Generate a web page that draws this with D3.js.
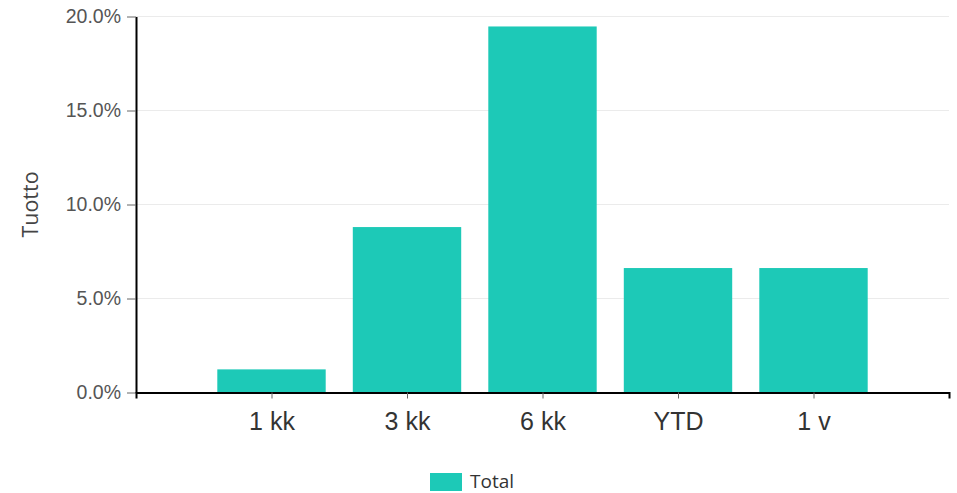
<!DOCTYPE html>
<html>
<head>
<meta charset="utf-8">
<script src="https://cdn.jsdelivr.net/npm/d3@7"></script>
<style>
  body { margin: 0; background: #fff; }
  svg { font-family: "Open Sans", sans-serif; }
</style>
</head>
<body>
<div id="chart"></div>
<script>
const categories = ["1 kk", "3 kk", "6 kk", "YTD", "1 v"];
const totals = [0.0123, 0.088, 0.1947, 0.0662, 0.0662];
const yTicks = [0, 0.05, 0.10, 0.15, 0.20];
const seriesName = "Total";

const width = 957, height = 493;
const margin = { top: 16.5, right: 8, bottom: 100.5, left: 136 };
const color = "#1dc9b7";

const svg = d3.select("#chart").append("svg")
  .attr("width", width)
  .attr("height", height);

const x = d3.scalePoint()
  .domain(categories)
  .range([margin.left, width - margin.right])
  .padding(1);

const y = d3.scaleLinear()
  .domain([0, 0.20])
  .range([height - margin.bottom, margin.top]);

const barWidth = x.step() * 0.8;

// grid
svg.append("g")
  .selectAll("line")
  .data(yTicks.slice(1))
  .join("line")
  .attr("x1", margin.left)
  .attr("x2", width - margin.right)
  .attr("y1", d => y(d))
  .attr("y2", d => y(d))
  .attr("stroke", "#ebebeb")
  .attr("stroke-width", 1);

// bars
svg.append("g")
  .selectAll("rect")
  .data(totals)
  .join("rect")
  .attr("x", (d, i) => x(categories[i]) - barWidth / 2)
  .attr("y", d => y(d))
  .attr("width", barWidth)
  .attr("height", d => y(0) - y(d))
  .attr("fill", color);

// y axis
const yAxis = svg.append("g")
  .attr("transform", `translate(${margin.left},0)`)
  .call(d3.axisLeft(y).tickValues(yTicks).tickFormat(d3.format(".1%")).tickSize(9).tickSizeOuter(0));
yAxis.select(".domain").attr("stroke", "#000").attr("stroke-width", 2);
yAxis.selectAll(".tick line").attr("stroke", "#666");
yAxis.selectAll(".tick text")
  .attr("fill", "#555")
  .attr("font-size", 19.5)
  .attr("x", -15);

// x axis
const xAxis = svg.append("g")
  .attr("transform", `translate(0,${y(0)})`)
  .call(d3.axisBottom(x).tickSize(6).tickSizeOuter(6));
xAxis.select(".domain").attr("stroke", "#000").attr("stroke-width", 2);
xAxis.selectAll(".tick line").attr("stroke", "#666");
xAxis.selectAll(".tick text")
  .attr("fill", "#333")
  .attr("font-size", 25)
  .attr("dy", "1.15em");

// y title
svg.append("text")
  .attr("transform", `translate(38,${(y(0) + y(0.2)) / 2}) rotate(-90)`)
  .attr("text-anchor", "middle")
  .attr("fill", "#444")
  .attr("font-size", 21.5)
  .text("Tuotto");

// legend
const legend = svg.append("g").attr("transform", "translate(430,473)");
legend.append("rect")
  .attr("width", 32)
  .attr("height", 18)
  .attr("fill", color);
legend.append("text")
  .attr("x", 40)
  .attr("y", 14.5)
  .attr("fill", "#333")
  .attr("font-size", 19)
  .text(seriesName);
</script>
</body>
</html>
